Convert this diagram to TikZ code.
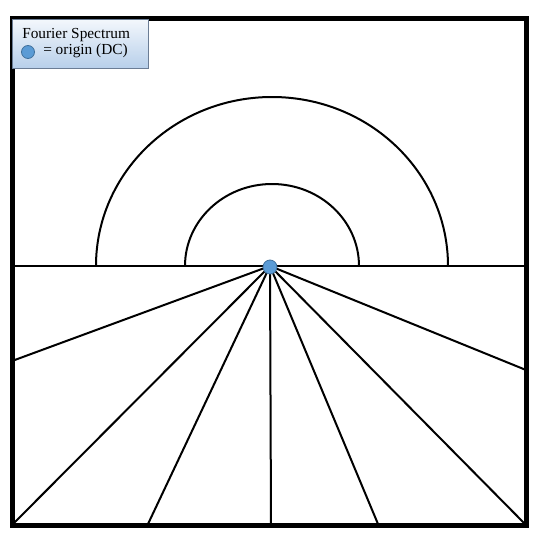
\documentclass[tikz,border=0pt]{standalone}
\usepackage{fontspec}
\setmainfont{Liberation Serif}

\definecolor{dcblue}{HTML}{5B9BD5}
\definecolor{dcedge}{HTML}{41719C}
\definecolor{legtop}{HTML}{F3F7FC}
\definecolor{legbot}{HTML}{B7CFEA}
\definecolor{legedge}{HTML}{6B7D95}

\tikzset{
    ray/.style={line width=1.5pt},
    dot/.style={circle, fill=dcblue, draw=dcedge, line width=0.6pt, inner sep=0pt}
}

\begin{document}
\begin{tikzpicture}[x=0.75pt, y=-0.75pt]
    \useasboundingbox (0,0) rectangle (544,539);

    \coordinate (o) at (270,266);
    \coordinate (w) at (15,266);
    \coordinate (e) at (524,266);

    % half rings above the axis
    \draw [ray] (96,266) arc [start angle=180, end angle=360, x radius=176, y radius=169];
    \draw [ray] (185,266) arc [start angle=180, end angle=360, x radius=87, y radius=82];

    \draw [ray] (w) -- (e);

    % rays to the lower border
    \coordinate (r1) at (12,361);
    \coordinate (r2) at (13,524);
    \coordinate (r3) at (148,524);
    \coordinate (r4) at (271,524);
    \coordinate (r5) at (378,524);
    \coordinate (r6) at (525,524);
    \coordinate (r7) at (526,370);
    \foreach \r in {r1,r2,r3,r4,r5,r6,r7}
        \draw [ray] (o) -- (\r);

    \node [dot, minimum size=10.5pt] (dc) at (270,267) {};

    \draw [line width=3.75pt] (12.5,18) rectangle (526.5,525);

    % legend
    \node [draw=legedge, line width=0.6pt, top color=legtop, bottom color=legbot,
           minimum width=102pt, minimum height=36.75pt, inner sep=0pt,
           anchor=north west] (legend) at (12,19) {};
    \node [anchor=base west, inner sep=0pt, font=\fontsize{11.5}{13}\selectfont] (title) at (22,38) {Fourier Spectrum};
    \node [dot, minimum size=9.75pt] (key) at (28,52) {};
    \node [anchor=base west, inner sep=0pt, font=\fontsize{11.5}{13}\selectfont] (keytext) at (43,55) {= origin (DC)};
\end{tikzpicture}
\end{document}
